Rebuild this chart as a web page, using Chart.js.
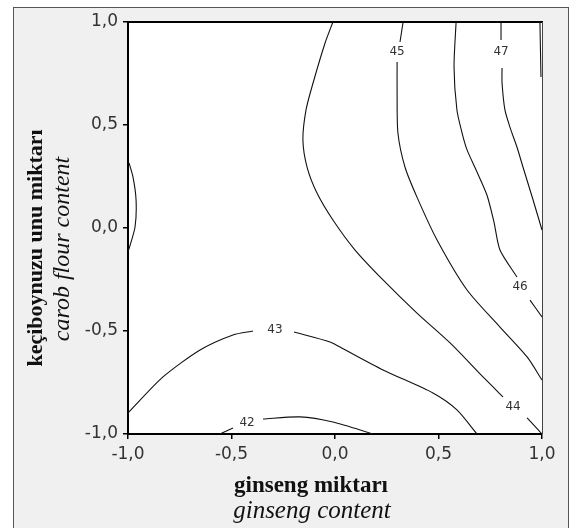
<!DOCTYPE html>
<html>
<head>
<meta charset="utf-8">
<script src="https://cdn.jsdelivr.net/npm/chart.js@4"></script>
<style>
  body { margin: 0; background: #fff; }
  canvas { display: block; }
</style>
</head>
<body>
<canvas id="myChart" width="574" height="528"></canvas>
<script>
// tick values on both axes
const xTicks = [-1, -0.5, 0, 0.5, 1];
const yTicks = [-1, -0.5, 0, 0.5, 1];

// contour lines (ginseng x, carob flour y), null = gap for the label
const c42X = [-0.556, -0.493, null, -0.348, -0.169, -0.010, 0.184];
const c42Y = [-1.0, -0.971, null, -0.927, -0.917, -0.942, -1.0];

const c43X = [-1.0, -0.831, -0.652, -0.493, -0.396, null, -0.198, -0.024, 0.024, 0.232, 0.473, 0.589, 0.686];
const c43Y = [-0.898, -0.723, -0.592, -0.519, -0.500, null, -0.505, -0.553, -0.578, -0.689, -0.801, -0.883, -1.0];

const c43leftX = [-0.995, -0.976, -0.961, -0.966, -1.0];
const c43leftY = [0.316, 0.248, 0.136, 0.005, -0.117];

const c44X = [-0.010, -0.048, -0.106, -0.140, -0.155, -0.135, -0.087, -0.010, 0.097, 0.232, 0.396, 0.556, 0.715, 0.812, null, 0.928, 1.0];
const c44Y = [1.0, 0.898, 0.704, 0.573, 0.427, 0.296, 0.170, 0.039, -0.107, -0.252, -0.413, -0.558, -0.723, -0.820, null, -0.922, -1.0];

const c45X = [0.329, 0.314, null, 0.300, 0.300, 0.304, 0.338, 0.396, 0.493, 0.638, 0.797, 0.928, 1.0];
const c45Y = [1.0, 0.903, null, 0.806, 0.655, 0.461, 0.296, 0.150, -0.058, -0.301, -0.481, -0.626, -0.738];

const c46X = [0.585, 0.575, 0.589, 0.614, 0.638, 0.686, 0.734, 0.768, 0.797, 0.879, null, 0.942, 1.0];
const c46Y = [1.0, 0.782, 0.573, 0.461, 0.379, 0.272, 0.160, 0.029, -0.107, -0.238, null, -0.350, -0.432];

const c47X = [0.802, 0.802, null, 0.807, 0.807, 0.821, 0.845, 0.879, 0.908, 0.957, 1.0];
const c47Y = [1.0, 0.913, null, 0.777, 0.704, 0.573, 0.490, 0.393, 0.296, 0.136, -0.010];

const c48X = [0.990, 0.995];
const c48Y = [1.0, 0.733];

// contour labels
const labelText = ['42', '43', '44', '45', '46', '47'];
const labelX = [-0.425, -0.290, 0.860, 0.300, 0.894, 0.802];
const labelY = [-0.947, -0.495, -0.869, 0.854, -0.286, 0.854];

const contours = [
  [c42X, c42Y], [c43X, c43Y], [c43leftX, c43leftY], [c44X, c44Y],
  [c45X, c45Y], [c46X, c46Y], [c47X, c47Y], [c48X, c48Y]
];

const toPoints = (xs, ys) => xs.map((x, i) => ({ x: x, y: ys[i] }));

const datasets = contours.map(c => ({
  data: toPoints(c[0], c[1]),
  showLine: true,
  borderColor: '#111',
  borderWidth: 1.1,
  pointRadius: 0,
  tension: 0.25,
  spanGaps: false
}));

const fmt = v => v.toFixed(1).replace('.', ',');

const framePlugin = {
  id: 'frame',
  beforeDraw(chart) {
    const ctx = chart.ctx;
    const a = chart.chartArea;
    ctx.save();
    ctx.fillStyle = '#fff';
    ctx.fillRect(0, 0, chart.width, chart.height);
    ctx.fillStyle = '#f0f0f0';
    ctx.fillRect(13, 7, 556, 530);
    ctx.strokeStyle = '#555';
    ctx.lineWidth = 1;
    ctx.strokeRect(13.5, 7.5, 555, 530);
    ctx.fillStyle = '#fff';
    ctx.fillRect(a.left, a.top, a.right - a.left, a.bottom - a.top);
    ctx.restore();
  },
  afterDraw(chart) {
    const ctx = chart.ctx;
    const a = chart.chartArea;
    ctx.save();
    ctx.strokeStyle = '#000';
    ctx.lineWidth = 2;
    ctx.beginPath();
    ctx.moveTo(a.left, a.top);
    ctx.lineTo(a.right + 1, a.top);
    ctx.stroke();
    ctx.strokeStyle = '#444';
    ctx.lineWidth = 1;
    ctx.beginPath();
    ctx.moveTo(a.right + 0.5, a.top);
    ctx.lineTo(a.right + 0.5, a.bottom);
    ctx.stroke();

    // contour labels
    const xs = chart.scales.x, ys = chart.scales.y;
    ctx.font = '12px "DejaVu Sans"';
    ctx.fillStyle = '#333';
    ctx.textAlign = 'center';
    ctx.textBaseline = 'middle';
    labelText.forEach((t, i) => {
      ctx.fillText(t, xs.getPixelForValue(labelX[i]), ys.getPixelForValue(labelY[i]));
    });

    // axis titles
    ctx.fillStyle = '#111';
    ctx.textBaseline = 'alphabetic';
    ctx.font = 'bold 23px "Liberation Serif"';
    ctx.fillText('ginseng miktarı', 311, 492);
    ctx.font = 'italic 25px "Liberation Serif"';
    ctx.fillText('ginseng content', 312, 518);

    ctx.save();
    ctx.translate(42, 248);
    ctx.rotate(-Math.PI / 2);
    ctx.font = 'bold 22px "Liberation Serif"';
    ctx.fillText('keçiboynuzu unu miktarı', 0, 0);
    ctx.restore();
    ctx.save();
    ctx.translate(69, 249);
    ctx.rotate(-Math.PI / 2);
    ctx.font = 'italic 24px "Liberation Serif"';
    ctx.fillText('carob flour content', 0, 0);
    ctx.restore();
    ctx.restore();
  }
};

const ctx = document.getElementById('myChart').getContext('2d');
const myChart = new Chart(ctx, {
  type: 'scatter',
  data: { datasets: datasets },
  plugins: [framePlugin],
  options: {
    responsive: false,
    animation: false,
    layout: { padding: { top: 22, right: 32, left: 0, bottom: 0 } },
    plugins: { legend: { display: false }, tooltip: { enabled: false } },
    scales: {
      x: {
        type: 'linear',
        min: -1,
        max: 1,
        afterBuildTicks: s => { s.ticks = xTicks.map(v => ({ value: v })); },
        afterFit: s => { s.height = 94; },
        grid: { drawOnChartArea: false, drawTicks: true, tickLength: 5, color: '#000', lineWidth: 1.5 },
        border: { display: true, color: '#000', width: 2 },
        ticks: {
          callback: v => fmt(v),
          color: '#333',
          padding: 5,
          maxRotation: 0,
          font: { family: 'DejaVu Sans', size: 17 }
        }
      },
      y: {
        type: 'linear',
        min: -1,
        max: 1,
        afterBuildTicks: s => { s.ticks = yTicks.map(v => ({ value: v })); },
        afterFit: s => { s.width = 128; },
        grid: { drawOnChartArea: false, drawTicks: true, tickLength: 5, color: '#000', lineWidth: 1.5 },
        border: { display: true, color: '#000', width: 2 },
        ticks: {
          callback: v => fmt(v),
          color: '#333',
          padding: 5,
          font: { family: 'DejaVu Sans', size: 17 }
        }
      }
    }
  }
});
</script>
</body>
</html>
